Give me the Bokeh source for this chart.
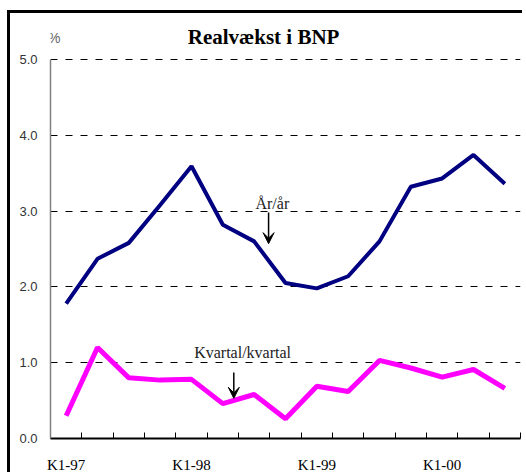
from bokeh.plotting import figure
from bokeh.models import (Range1d, FixedTicker, Label, Arrow, VeeHead, ColumnDataSource,
                          CustomJSTickFormatter)
from bokeh.embed import file_html
from bokeh.resources import INLINE

# ---- data ----
quarters = ["K1-97", "K2-97", "K3-97", "K4-97",
            "K1-98", "K2-98", "K3-98", "K4-98",
            "K1-99", "K2-99", "K3-99", "K4-99",
            "K1-00", "K2-00", "K3-00"]
aar_aar = [1.78, 2.37, 2.58, 3.08, 3.59, 2.82, 2.60, 2.05, 1.98, 2.14, 2.60, 3.32, 3.43, 3.74, 3.36]
kvartal = [0.30, 1.20, 0.80, 0.77, 0.78, 0.46, 0.58, 0.26, 0.69, 0.62, 1.03, 0.93, 0.81, 0.91, 0.66]
y_ticks = [0.0, 1.0, 2.0, 3.0, 4.0, 5.0]
label_idx = [0, 4, 8, 12]
title_text = "Realvækst i BNP"
unit_text = "%"

xs = list(range(len(quarters)))
src = ColumnDataSource(dict(x=xs, aar=aar_aar, kv=kvartal))

p = figure(width=515, height=462, output_backend="svg", toolbar_location=None,
           x_range=Range1d(-0.5, len(quarters) - 0.5), y_range=Range1d(0, 5.5),
           min_border_left=40, min_border_right=5, min_border_top=8, min_border_bottom=37)
p.title = None
p.styles = {"border-left": "3px solid black", "border-top": "3px solid black",
            "margin-left": "7px", "margin-top": "10px"}
p.outline_line_color = None
p.background_fill_color = "white"
p.border_fill_color = "white"

# x axis
xa = p.xaxis[0]
xa.ticker = FixedTicker(ticks=label_idx, minor_ticks=[i - 0.5 for i in range(len(quarters) + 1)])
xa.major_label_overrides = {i: quarters[i] for i in label_idx}
xa.major_tick_in = 0
xa.major_tick_out = 0
xa.minor_tick_in = 6
xa.minor_tick_out = 0
xa.minor_tick_line_color = "black"
xa.minor_tick_line_width = 1
xa.axis_line_color = "black"
xa.axis_line_width = 2
xa.major_label_text_font = "Liberation Serif"
xa.major_label_text_font_size = "15px"
xa.major_label_text_color = "black"
xa.major_label_standoff = 18

# y axis
ya = p.yaxis[0]
ya.ticker = FixedTicker(ticks=y_ticks)
ya.bounds = (0, 5)
ya.formatter = CustomJSTickFormatter(code="return tick.toFixed(1);")
ya.major_tick_in = 0
ya.major_tick_out = 0
ya.minor_tick_line_color = None
ya.axis_line_color = "#808080"
ya.axis_line_width = 1.5
ya.major_label_text_font = "Liberation Sans"
ya.major_label_text_font_size = "13px"
ya.major_label_text_color = "#333333"
ya.major_label_standoff = 13

p.xgrid.grid_line_color = None
p.ygrid.ticker = FixedTicker(ticks=y_ticks[1:])
p.ygrid.grid_line_color = "black"
p.ygrid.grid_line_dash = "7 8"
p.ygrid.grid_line_width = 1

# lines
p.line("x", "aar", source=src, line_color="#000080", line_width=4)
p.line("x", "kv", source=src, line_color="#FF00FF", line_width=5)

# title and unit label
p.add_layout(Label(x=6.30, y=5.295, text=title_text, text_font="Liberation Serif",
                   text_font_size="21px", text_font_style="bold", text_color="black",
                   text_align="center", text_baseline="alphabetic"))
p.add_layout(Label(x=-0.38, y=5.276, text=unit_text, text_font="Liberation Sans",
                   text_font_size="14px", text_color="#666666", text_align="center",
                   text_baseline="middle"))

# annotations
p.add_layout(Label(x=6.58, y=3.10, text="År/år", text_font="Liberation Serif",
                   text_font_size="16px", text_color="#222222", text_align="center",
                   text_baseline="alphabetic"))
p.add_layout(Arrow(end=VeeHead(size=11, fill_color="black", line_color="black"),
                   x_start=6.46, y_start=2.98, x_end=6.46, y_end=2.57,
                   line_color="black", line_width=1.5))
p.add_layout(Label(x=5.63, y=1.13, text="Kvartal/kvartal", text_font="Liberation Serif",
                   text_font_size="16px", text_color="#222222", text_align="center",
                   text_baseline="alphabetic"))
p.add_layout(Arrow(end=VeeHead(size=11, fill_color="black", line_color="black"),
                   x_start=5.35, y_start=0.87, x_end=5.35, y_end=0.53,
                   line_color="black", line_width=1.5))

open("out.html", "w").write(file_html(p, INLINE))
